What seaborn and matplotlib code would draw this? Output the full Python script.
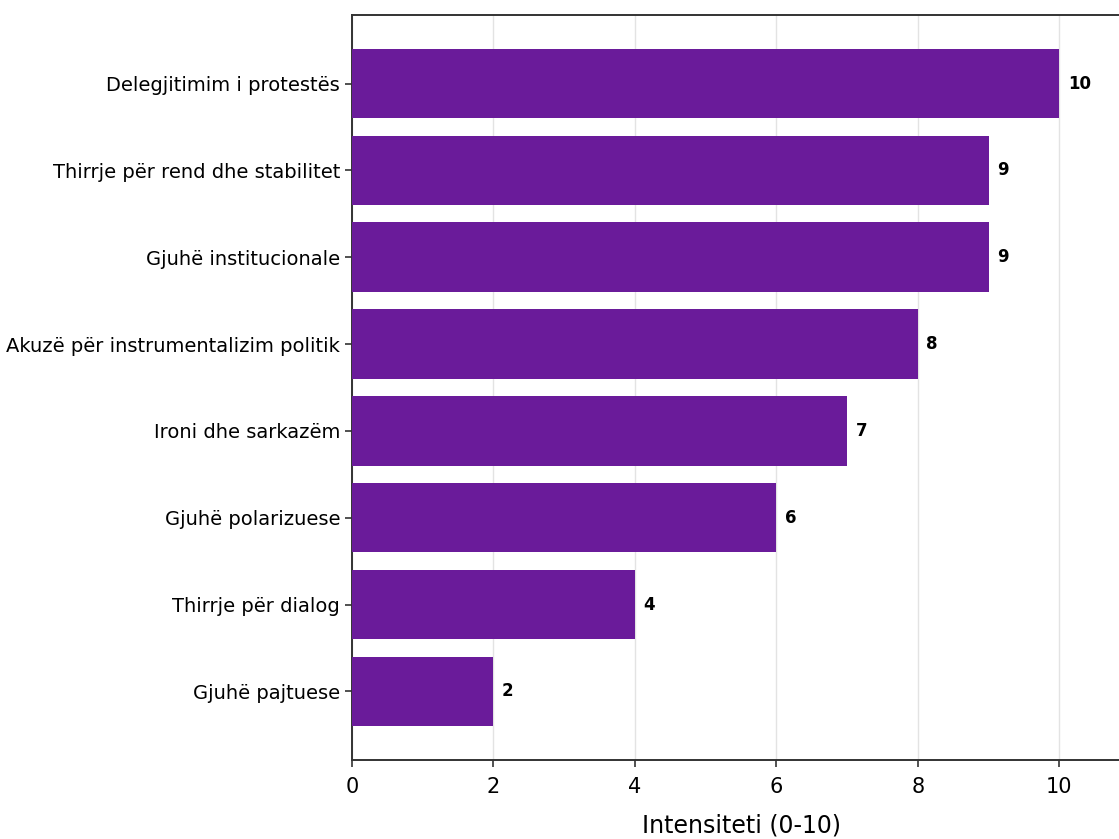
import pandas as pd
import seaborn as sns
import matplotlib.pyplot as plt

# Data
kategorite = [
    'Delegjitimim i protestës',
    'Thirrje për rend dhe stabilitet',
    'Gjuhë institucionale',
    'Akuzë për instrumentalizim politik',
    'Ironi dhe sarkazëm',
    'Gjuhë polarizuese',
    'Thirrje për dialog',
    'Gjuhë pajtuese',
]
intensiteti = [10, 9, 9, 8, 7, 6, 4, 2]

df = pd.DataFrame({
    'Kategoria': kategorite,
    'Intensiteti': intensiteti
})

sns.set_style('ticks')
plt.rcParams['text.color'] = 'black'
plt.rcParams['xtick.labelcolor'] = 'black'
plt.rcParams['ytick.labelcolor'] = 'black'
plt.rcParams['axes.labelcolor'] = 'black'

fig = plt.figure(figsize=(11.19, 8.39), dpi=100)
ax = fig.add_axes([0.3146, 0.0942, 0.6953, 0.888])

sns.barplot(
    data=df,
    x='Intensiteti',
    y='Kategoria',
    color='#6A1B9A',
    saturation=1,
    width=0.8,
    orient='h',
    linewidth=0,
    ax=ax,
    zorder=3
)

# Label vlerash
for i, v in enumerate(df['Intensiteti']):
    ax.text(v + 0.12, i, str(v), ha='left', va='center',
            fontsize=12, fontweight='bold', color='black')

ax.set_xlim(0, 11)
ax.set_ylim(7.79, -0.79)
ax.set_xticks([0, 2, 4, 6, 8, 10])

ax.grid(axis='x', color='#dddddd', linewidth=1, alpha=0.8, zorder=0)
ax.set_axisbelow(True)

ax.set_xlabel('Intensiteti (0-10)', fontsize=17, labelpad=12)
ax.set_ylabel('')
ax.tick_params(axis='y', labelsize=14, length=5, width=1.2, color='#333333')
ax.tick_params(axis='x', labelsize=15, length=5, width=1.2, color='#333333', pad=7)

for s in ['top', 'bottom', 'left', 'right']:
    ax.spines[s].set_visible(True)
    ax.spines[s].set_color('#333333')
    ax.spines[s].set_linewidth(1.4)

fig.savefig('out.png', dpi=100)
